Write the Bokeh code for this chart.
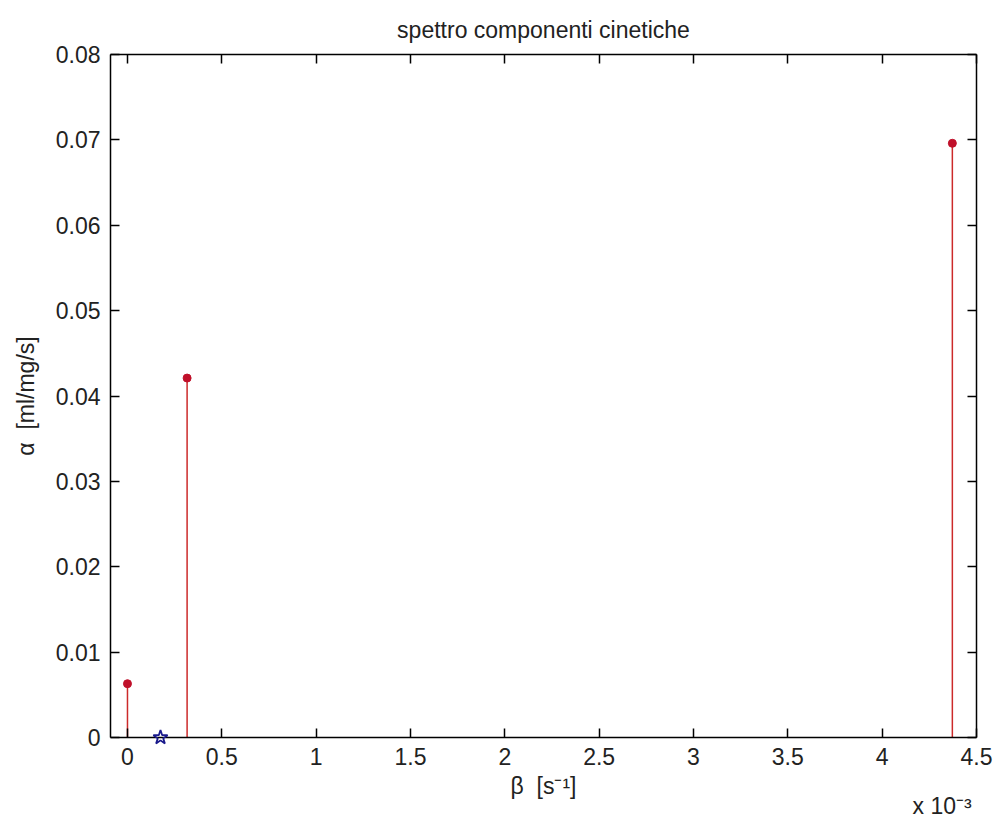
from bokeh.plotting import figure
from bokeh.models import Range1d, LinearAxis, FixedTicker
from bokeh.embed import file_html
from bokeh.resources import INLINE

# data (beta in units of 1e-3 s^-1)
beta_red = [0.0, 0.316, 4.372]
alpha_red = [0.0063, 0.0421, 0.0696]
beta_star = [0.175]
alpha_star = [0.0]

x_ticks = [0, 0.5, 1, 1.5, 2, 2.5, 3, 3.5, 4, 4.5]
x_tick_labels = ["0", "0.5", "1", "1.5", "2", "2.5", "3", "3.5", "4", "4.5"]
y_ticks = [0, 0.01, 0.02, 0.03, 0.04, 0.05, 0.06, 0.07, 0.08]
y_tick_labels = ["0", "0.01", "0.02", "0.03", "0.04", "0.05", "0.06", "0.07", "0.08"]
x_exponent = ["x 10⁻³"]

FONT = "Liberation Sans"
FS = "23px"
NB = "\u00a0"

p = figure(width=995, height=817, output_backend="svg", toolbar_location=None,
           x_range=Range1d(-0.09, 4.5), y_range=Range1d(0, 0.08),
           min_border_left=110, min_border_right=19, min_border_top=54, min_border_bottom=80)
p.grid.visible = False
p.outline_line_color = None
p.background_fill_color = "white"
p.border_fill_color = "white"

p.title.text = "spettro componenti cinetiche"
p.title.align = "center"
p.title.text_font = FONT
p.title.text_font_size = FS
p.title.text_font_style = "normal"
p.title.text_color = "#222222"
p.title.standoff = 24

def style_axis(ax, labels=True):
    ax.axis_line_color = "black"
    ax.axis_line_width = 1.5
    ax.major_tick_line_color = "black"
    ax.major_tick_line_width = 1.5
    ax.major_tick_in = 9
    ax.major_tick_out = 0
    ax.minor_tick_line_color = None
    ax.major_label_text_font = FONT
    ax.major_label_text_font_size = FS
    ax.major_label_text_color = "#222222"
    ax.axis_label_text_font = FONT
    ax.axis_label_text_font_size = FS
    ax.axis_label_text_font_style = "normal"
    ax.axis_label_text_color = "#222222"
    if not labels:
        ax.major_label_text_color = None

xa = p.xaxis[0]
xa.ticker = FixedTicker(ticks=x_ticks)
xa.major_label_overrides = {t: l for t, l in zip(x_ticks, x_tick_labels)}
xa.axis_label = "β" + NB + NB + "[s⁻¹]"
style_axis(xa)
xa.major_label_standoff = 10

ya = p.yaxis[0]
ya.ticker = FixedTicker(ticks=y_ticks)
ya.major_label_overrides = {t: l for t, l in zip(y_ticks, y_tick_labels)}
ya.axis_label = "α" + NB + NB + "[ml/mg/s]"
style_axis(ya)
ya.major_label_standoff = 10
ya.axis_label_standoff = 14

top = LinearAxis(ticker=FixedTicker(ticks=x_ticks))
style_axis(top, labels=False)
p.add_layout(top, "above")
right = LinearAxis(ticker=FixedTicker(ticks=y_ticks))
style_axis(right, labels=False)
p.add_layout(right, "right")

p.segment(x0=beta_red, y0=[0] * len(beta_red), x1=beta_red, y1=alpha_red,
          line_color="#cc2a2a", line_width=1.5)
p.scatter(x=beta_red, y=alpha_red, marker="circle", size=8,
          fill_color="#c0102a", line_color="#c0102a")
star = p.scatter(x=beta_star, y=alpha_star, marker="star", size=15,
                 fill_color=None, line_color="#1a1a8c", line_width=1.8)
star.level = "overlay"

ex = p.text(x=[x_ticks[-1]], y=[y_ticks[0]], text=x_exponent, x_offset=-64, y_offset=68,
            text_font={"value": FONT}, text_font_size={"value": FS},
            text_color="#222222", text_align="left", text_baseline="middle")
ex.level = "overlay"

open("out.html", "w").write(file_html(p, INLINE))
